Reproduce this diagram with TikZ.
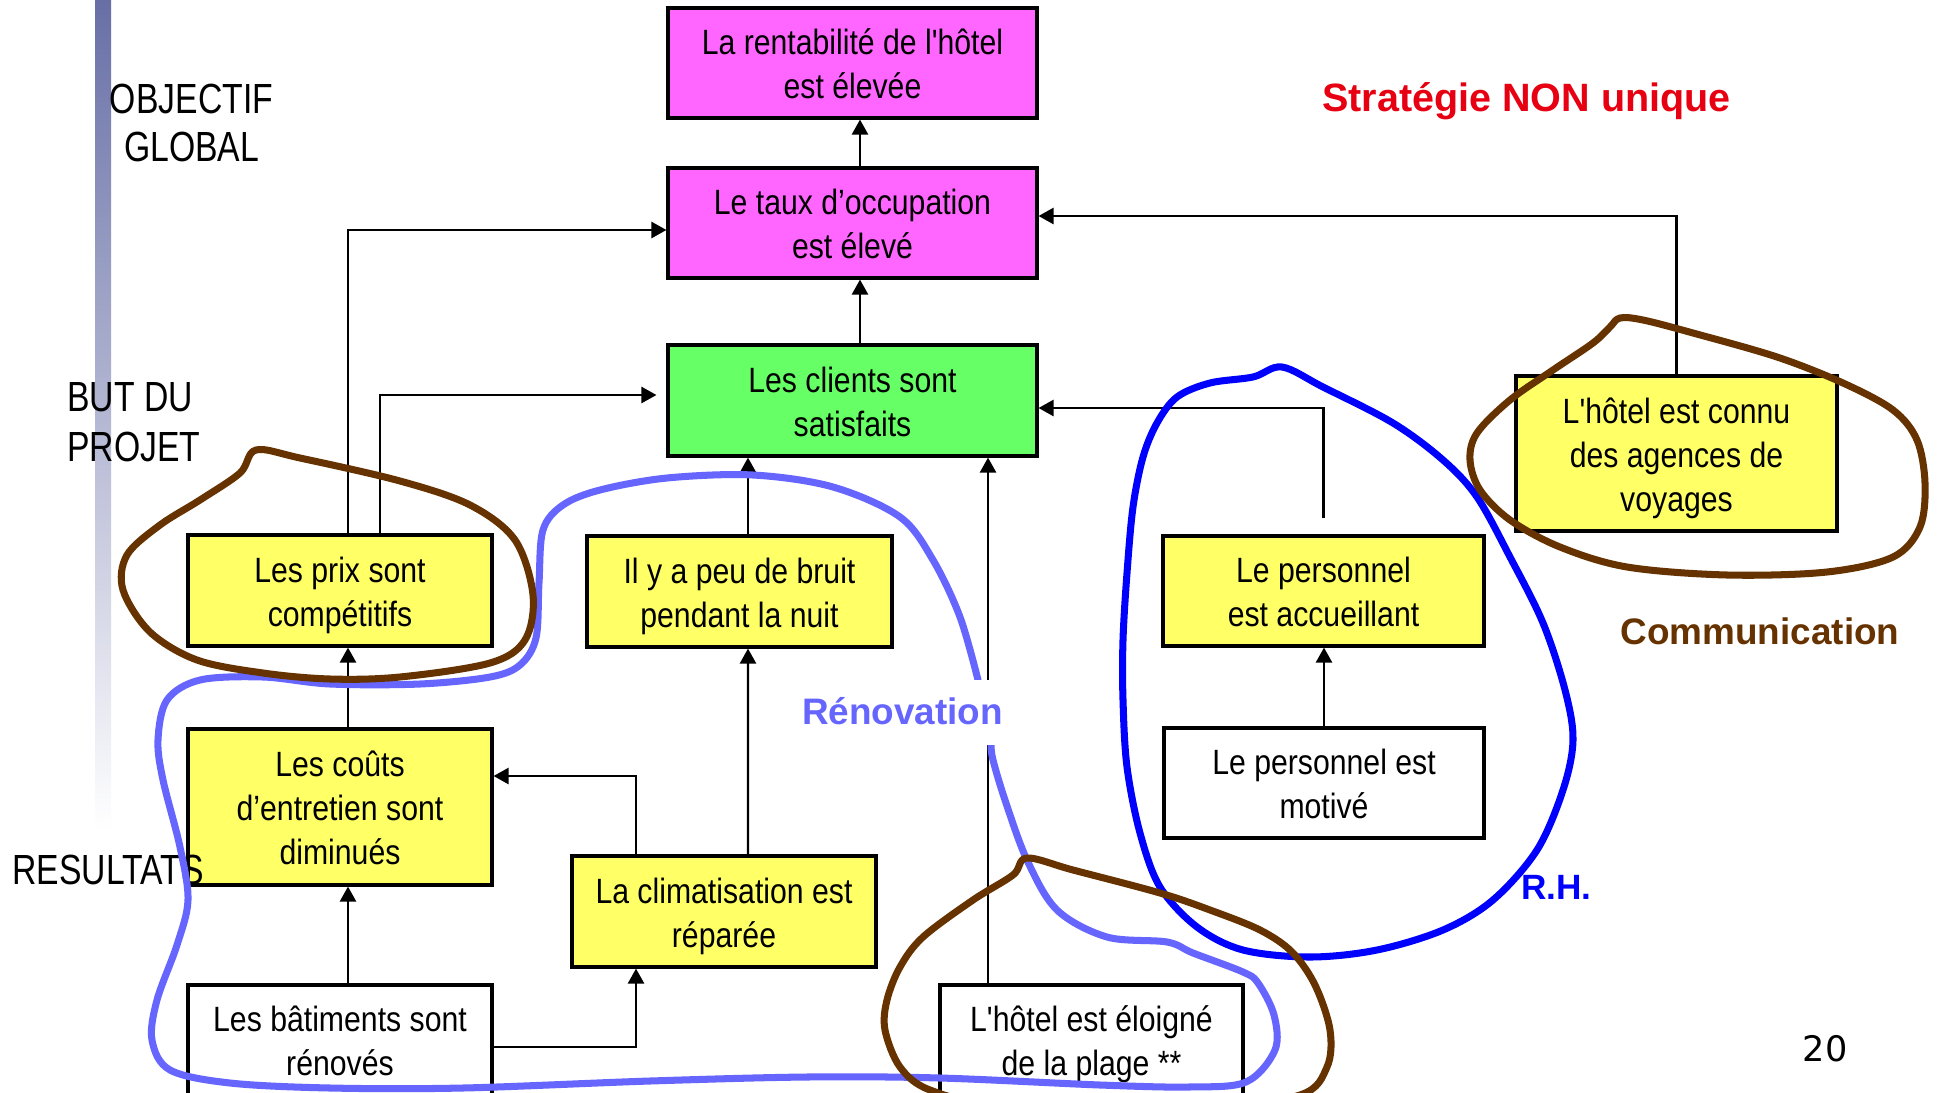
\documentclass[tikz,border=0pt]{standalone}
\usepackage{fontspec}
\setmainfont{Liberation Sans}
\newfontfamily\boxf[FakeStretch=0.86,Ligatures=TeXOff]{Liberation Sans}
\newfontfamily\lblf[FakeStretch=0.8]{Liberation Sans}
\newfontfamily\numf{DejaVu Sans}
\usetikzlibrary{arrows.meta}
\definecolor{magbox}{HTML}{FF66FF}
\definecolor{grnbox}{HTML}{66FF66}
\definecolor{yelbox}{HTML}{FFFF66}
\definecolor{brownc}{HTML}{663300}
\definecolor{lbluec}{HTML}{6666FF}
\definecolor{bluec}{HTML}{0000FF}
\definecolor{redc}{RGB}{230,0,18}
\definecolor{barA}{HTML}{686FA6}
\definecolor{barB}{HTML}{D6D8E6}
\newcommand{\toprl}{\rule{0pt}{20.6pt}}
\begin{document}
\begin{tikzpicture}[x=0.02cm,y=-0.02cm,
  box/.style={draw=black, line width=1.8pt, align=center, inner sep=0pt,
    font=\boxf\fontsize{20}{25}\selectfont,
    execute at end node={\rule[-5pt]{0pt}{5pt}}},
  conn/.style={line width=1.4pt, -{Triangle[length=0.3cm,width=0.32cm]}},
  loop/.style={line width=4pt, line cap=round, line join=round},
  lbl/.style={inner sep=0pt, font=\lblf\fontsize{24}{27}\selectfont},
  tag/.style={inner sep=0pt, font=\bfseries\fontsize{21}{25}\selectfont}]
\useasboundingbox (0,0) rectangle (1937,1092);
\clip (0,0) rectangle (1937,1092);
\fill[white] (0,0) rectangle (1937,1092);
% side bar
\shade[top color=barA, middle color=barB, bottom color=white] (95,0) rectangle (111,830);
% labels
\node[lbl, align=center, anchor=south] (obj) at (191.5,162) {OBJECTIF\\GLOBAL};
\node[lbl, align=left, anchor=south west, font=\lblf\fontsize{24}{28.5}\selectfont] (but) at (67,462) {BUT DU\\PROJET};
% boxes
\node[box, fill=magbox, minimum width=7.38cm, minimum height=2.2cm] (rent) at (852.5,63) {\toprl La rentabilité de l'hôtel\\est élevée};
\node[box, fill=magbox, minimum width=7.38cm, minimum height=2.2cm] (taux) at (852.5,223) {\toprl Le taux d’occupation\\est élevé};
\node[box, fill=grnbox, minimum width=7.38cm, minimum height=2.22cm] (cli) at (852.5,400.5) {\toprl Les clients sont\\satisfaits};
\node[box, fill=yelbox, minimum width=6.08cm, minimum height=2.22cm] (prix) at (340,590.5) {\toprl Les prix sont\\compétitifs};
\node[box, fill=yelbox, minimum width=6.1cm, minimum height=2.22cm] (bruit) at (739.5,591.5) {\toprl Il y a peu de bruit\\pendant la nuit};
\node[box, fill=yelbox, minimum width=6.42cm, minimum height=2.2cm] (accu) at (1323.5,591) {\toprl Le personnel\\est accueillant};
\node[box, fill=yelbox, minimum width=6.42cm, minimum height=3.1cm] (connu) at (1676.5,453.5) {\toprl L'hôtel est connu\\des agences de\\voyages};
\node[box, fill=yelbox, minimum width=6.08cm, minimum height=3.12cm] (couts) at (340,807) {\toprl Les coûts\\d’entretien sont\\diminués};
\node[box, fill=white, minimum width=6.4cm, minimum height=2.2cm] (motiv) at (1324,783) {\toprl Le personnel est\\motivé};
\node[box, fill=yelbox, minimum width=6.08cm, minimum height=2.22cm] (clim) at (724,911.5) {\toprl La climatisation est\\réparée};
\node[box, fill=white, minimum width=6.08cm, minimum height=2.2cm] (bati) at (340,1040) {\toprl Les bâtiments sont\\rénovés};
\node[box, fill=white, minimum width=6.06cm, minimum height=2.2cm] (eloi) at (1091.5,1040) {\toprl L'hôtel est éloigné\\de la plage **};
\node[lbl, anchor=south west] (res) at (12,885) {RESULTATS};
% connectors
\draw[conn] ([xshift=0.15cm]taux.north) -- ([xshift=0.15cm]rent.south);
\draw[conn] ([xshift=0.15cm]cli.north) -- ([xshift=0.15cm]taux.south);
\draw[conn] ([xshift=0.16cm]prix.north) |- ([yshift=-0.14cm]taux.west);
\draw[conn, shorten >=0.2cm] ([xshift=0.8cm]prix.north) |- ([yshift=0.11cm]cli.west);
\coordinate (b1) at ([xshift=0.17cm]bruit.north);
\draw[conn] (b1) -- (b1 |- cli.south);
\coordinate (e1) at ([xshift=-2.07cm]eloi.north);
\draw[conn] (e1) -- (e1 |- cli.south);
\draw[conn] ([yshift=0.32cm]accu.north) |- ([yshift=-0.15cm]cli.east);
\draw[conn] (connu.north) |- ([yshift=0.14cm]taux.east);
\draw[conn] ([xshift=0.16cm]couts.north) -- ([xshift=0.16cm]prix.south);
\draw[conn] ([xshift=0.16cm]bati.north) -- ([xshift=0.16cm]couts.south);
\coordinate (k1) at ([xshift=-1.76cm]clim.south);
\draw[conn] ([yshift=-0.14cm]bati.east) -| (k1);
\draw[conn] ([xshift=0.48cm]clim.north) -- ([xshift=0.17cm]bruit.south);
\draw[conn] ([xshift=-1.76cm]clim.north) |- ([yshift=0.62cm]couts.east);
\draw[conn] (motiv.north) -- (motiv.north |- accu.south);
% hand-drawn loops
\draw[loop, lbluec] plot[smooth, tension=0.55] coordinates {(978,680) (960,617) (933,560) (900,517) (833,487) (753,475) (667,478) (600,490) (563,505) (543,530) (539,583) (536,638) (520,665) (490,677) (420,684) (330,684) (263,677) (200,680) (167,700) (158,740) (163,780) (180,847) (188,900) (177,945) (157,1000) (152,1040) (170,1070) (230,1083) (330,1088) (463,1088) (650,1081) (807,1077) (940,1078) (1100,1085) (1189,1087) (1246,1082) (1275,1050) (1274,1015) (1258,983) (1243,972) (1193,953) (1167,942) (1107,937) (1057,910) (1027,860) (1005,800) (993,760) (991,745)};
\draw[loop, bluec] plot[smooth cycle, tension=0.55] coordinates {(1282,367) (1323,387) (1393,423) (1443,460) (1477,497) (1510,557) (1543,623) (1565,690) (1573,740) (1563,790) (1537,850) (1493,900) (1443,930) (1377,950) (1310,957) (1243,950) (1197,927) (1160,887) (1140,833) (1127,767) (1123,700) (1123,640) (1127,573) (1133,507) (1143,457) (1157,423) (1177,397) (1210,383) (1253,377)};
\draw[loop, brownc] plot[smooth cycle, tension=0.55] coordinates {(256,450) (300,458) (400,481) (470,505) (515,540) (533,595) (525,640) (490,663) (400,677) (330,679) (263,673) (197,660) (150,632) (123,590) (127,555) (160,525) (200,500) (240,473)};
\draw[loop, brownc] plot[smooth cycle, tension=0.55] coordinates {(1027,858) (1073,870) (1160,893) (1210,910) (1260,930) (1292,952) (1315,985) (1330,1030) (1327,1067) (1300,1095) (1200,1108) (1000,1104) (930,1090) (900,1067) (885,1030) (887,1000) (900,967) (923,937) (973,900) (1013,875)};
\draw[loop, brownc] plot[smooth cycle, tension=0.55] coordinates {(1620,318) (1643,320) (1693,333) (1777,357) (1843,383) (1893,410) (1917,440) (1925,483) (1920,527) (1893,557) (1827,572) (1727,575) (1627,567) (1560,547) (1510,520) (1480,490) (1470,460) (1477,433) (1510,400) (1553,370) (1593,343) (1610,327)};
% strategy tags
\node[tag, lbluec, fill=white, text height=0.88cm, text depth=0.42cm, inner xsep=0.08cm, anchor=base] (renov) at (902.5,724) {Rénovation};
\node[tag, brownc] (comm) at (1760,631) {Communication};
\node[tag, bluec, anchor=base west, font=\bfseries\fontsize{20}{24}\selectfont] (rh) at (1521,899) {R.H.};
\node[inner sep=0pt, redc, anchor=base, font=\bfseries\fontsize{22.5}{26}\selectfont] (title) at (1526.5,111) {Stratégie NON unique};
\node[inner sep=0pt, font=\numf\fontsize{20}{24}\selectfont] (pnum) at (1825,1049) {20};
\end{tikzpicture}
\end{document}
